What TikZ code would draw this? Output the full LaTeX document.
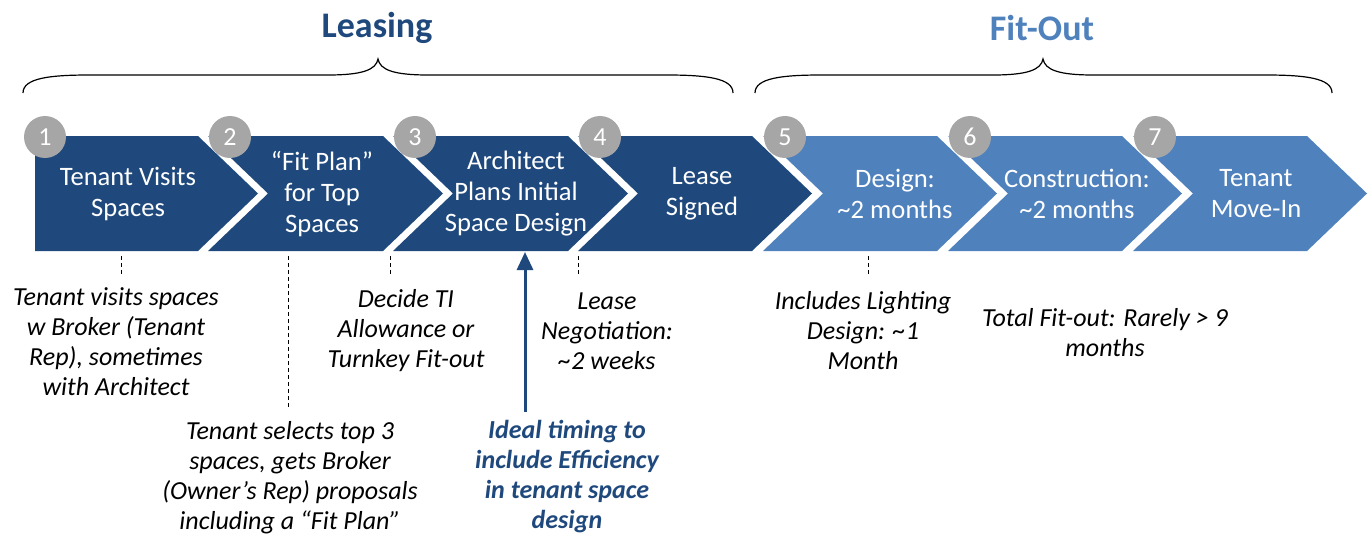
\documentclass[tikz,border=0pt]{standalone}
\usepackage{fontspec}
\setmainfont{Carlito}
\usetikzlibrary{arrows.meta}
\definecolor{leaseblue}{RGB}{31,73,125}
\definecolor{fitblue}{RGB}{79,129,189}
\definecolor{dotgray}{RGB}{166,166,166}
\begin{document}
\begin{tikzpicture}[x=0.5pt,y=-0.5pt,
    leasestep/.style={fill=leaseblue},
    fitstep/.style={fill=fitblue},
    steptext/.style={text=white,align=center,inner sep=0pt,font=\fontsize{13.3}{15.5}\selectfont},
    numdot/.style={circle,fill=dotgray,text=white,minimum size=21pt,inner sep=0pt,font=\fontsize{13}{13}\selectfont},
    note/.style={align=center,inner sep=0pt,font=\fontsize{13}{15}\selectfont\itshape},
    phase/.style={font=\fontsize{18}{18}\selectfont\bfseries},
    guide/.style={dash pattern=on 2pt off 1.5pt,line width=0.5pt}]
    \useasboundingbox (0,0) rectangle (1369,535);

    \node[phase,text=leaseblue] (leasing) at (377,28) {Leasing};
    \node[phase,text=fitblue] (fitout) at (1042,28) {Fit-Out};
    \draw[line width=0.6pt] (23,93) .. controls (23,78) and (50,75) .. (90,75) -- (328,75)
      .. controls (362,75) and (376,70) .. (378,59) .. controls (380,70) and (394,75) .. (428,75)
      -- (666,75) .. controls (706,75) and (733,78) .. (733,93);
    \draw[line width=0.6pt] (755,93) .. controls (755,78) and (782,75) .. (822,75) -- (993,75)
      .. controls (1027,75) and (1041,70) .. (1043,59) .. controls (1045,70) and (1059,75) .. (1093,75)
      -- (1265,75) .. controls (1305,75) and (1332,78) .. (1332,93);

    \fill[leasestep] (35,136) -- (198,136) -- (258,193.5) -- (198,251) -- (35,251) -- cycle;
    \fill[leasestep] (208,136) -- (383,136) -- (443,193.5) -- (383,251) -- (208,251) -- (268,193.5) -- cycle;
    \fill[leasestep] (393,136) -- (568,136) -- (628,193.5) -- (568,251) -- (393,251) -- (453,193.5) -- cycle;
    \fill[leasestep] (578,136) -- (752,136) -- (812,193.5) -- (752,251) -- (578,251) -- (638,193.5) -- cycle;
    \fill[fitstep] (763,136) -- (937,136) -- (997,193.5) -- (937,251) -- (763,251) -- (823,193.5) -- cycle;
    \fill[fitstep] (948,136) -- (1122,136) -- (1182,193.5) -- (1122,251) -- (948,251) -- (1008,193.5) -- cycle;
    \fill[fitstep] (1133,136) -- (1307,136) -- (1367,193.5) -- (1307,251) -- (1133,251) -- (1193,193.5) -- cycle;

    \node[steptext] (s1) at (128,194) {Tenant Visits\\Spaces};
    \node[steptext] (s2) at (322,194) {“Fit Plan”\\for Top\\Spaces};
    \node[steptext] (s3) at (516,194) {Architect\\Plans Initial\\Space Design};
    \node[steptext] (s4) at (702,194) {Lease\\Signed};
    \node[steptext] (s5) at (895,194) {Design:\\\textasciitilde2 months};
    \node[steptext] (s6) at (1077,194) {Construction:\\\textasciitilde2 months};
    \node[steptext] (s7) at (1256,194) {Tenant\\Move-In};

    \node[numdot] (n1) at (45,137) {1};
    \node[numdot] (n2) at (230,137) {2};
    \node[numdot] (n3) at (415,137) {3};
    \node[numdot] (n4) at (600,137) {4};
    \node[numdot] (n5) at (785,137) {5};
    \node[numdot] (n6) at (970,137) {6};
    \node[numdot] (n7) at (1155,137) {7};

    \node[note] (visit) at (116,342) {Tenant visits spaces\\w Broker (Tenant\\Rep), sometimes\\with Architect};
    \node[note] (select) at (290,478) {Tenant selects top 3\\spaces, gets Broker\\(Owner’s Rep) proposals\\including a “Fit Plan”};
    \node[note] (allow) at (406,331) {Decide TI\\Allowance or\\Turnkey Fit-out};
    \node[note] (nego) at (607,331) {Lease\\Negotiation:\\\textasciitilde2 weeks};
    \node[note] (light) at (863,331) {Includes Lighting\\Design: \textasciitilde1\\Month};
    \node[note] (total) at (1105,333) {Total Fit-out: Rarely > 9\\months};
    \node[note,text=leaseblue,font=\fontsize{13}{15}\selectfont\bfseries\itshape] (ideal) at (567,477)
      {Ideal timing to\\include Efficiency\\in tenant space\\design};

    \coordinate (g1a) at (121,256);  \coordinate (g1b) at (121,277);
    \coordinate (g2a) at (288,256);  \coordinate (g2b) at (288,410);
    \coordinate (g3a) at (390,256);  \coordinate (g3b) at (390,277);
    \coordinate (g4a) at (578,256);  \coordinate (g4b) at (578,277);
    \coordinate (g5a) at (868,256);  \coordinate (g5b) at (868,277);
    \draw[guide] (g1a) -- (g1b);
    \draw[guide] (g2a) -- (g2b);
    \draw[guide] (g3a) -- (g3b);
    \draw[guide] (g4a) -- (g4b);
    \draw[guide] (g5a) -- (g5b);

    \coordinate (tail) at (525,412);
    \coordinate (head) at (525,252);
    \draw[leaseblue,line width=1.5pt,-{Triangle[width=8pt,length=9pt]}] (tail) -- (head);
  \end{tikzpicture}
\end{document}
